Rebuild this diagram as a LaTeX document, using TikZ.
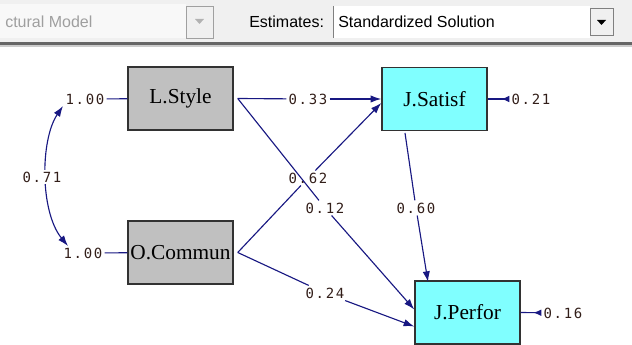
\documentclass[tikz,border=0pt]{standalone}
\usepackage{fontspec}
\setmainfont{Liberation Serif}
\newfontfamily\numfont[LetterSpace=12]{DejaVu Sans Mono}
\newfontfamily\uifont{Liberation Sans}
\usetikzlibrary{arrows.meta,calc}
\definecolor{navy}{RGB}{24,24,130}
\definecolor{numcol}{RGB}{50,30,25}
\definecolor{boxgray}{RGB}{192,192,192}
\definecolor{boxcyan}{RGB}{128,255,255}
\definecolor{barbg}{RGB}{240,240,240}
\tikzset{
  latent/.style={draw={rgb,255:red,50;green,50;blue,50}, line width=1.1pt, minimum width=78.75pt, minimum height=47.25pt, inner sep=0pt, font=\fontsize{16}{16}\selectfont},
  exo/.style={latent, fill=boxgray},
  endo/.style={latent, fill=boxcyan},
  coef/.style={inner sep=1.5pt, text=numcol, font=\numfont\fontsize{10.5}{10.5}\selectfont},
  path/.style={draw=navy, line width=0.85pt},
  arr/.style={path, -{Latex[length=8pt,width=5.5pt]}},
  errarr/.style={path, -{Latex[length=6pt,width=5pt,reversed]}},
  uitext/.style={inner sep=0pt, anchor=west, font=\uifont\fontsize{12}{12}\selectfont}
}
\begin{document}
\begin{tikzpicture}[x=0.75pt,y=-0.75pt]
\useasboundingbox (0,0) rectangle (632,345);
% ---- top bar ----
\fill[barbg] (0,0) rectangle (632,42);
\fill[white!50!barbg] (0,4) rectangle (186,38);
\node[draw={rgb,255:red,160;green,160;blue,160}, fill=barbg, minimum width=20.25pt, minimum height=24pt, inner sep=0pt] (btnA) at (199.5,22) {};
\fill[gray!60] (195,19) -- (204,19) -- (199.5,24) -- cycle;
\node[uitext, text=gray!75] (model) at (5,22) {ctural Model};
\node[uitext, text=black] (est) at (249,22) {Estimates:};
\fill[white] (333,6) rectangle (590,38);
\draw[gray, line width=1.2pt] (333.5,6) -- (333.5,38);
\node[uitext, text=black] (sol) at (338,22) {Standardized Solution};
\node[draw=gray, fill=barbg, minimum width=17pt, minimum height=20pt, inner sep=0pt] (btnB) at (601.5,22) {};
\fill[black] (597,20) -- (606,20) -- (601.5,25) -- cycle;
\fill[gray!80!black] (0,42) rectangle (632,45);
\fill[gray!40] (0,45) rectangle (632,47);
% ---- nodes ----
\node[exo]  (ls) at (180.5,98.5) {L.Style};
\node[exo]  (oc) at (180.5,252.5) {O.Commun};
\node[endo] (js) at (434.5,99) {J.Satisf};
\node[endo] (jp) at (467.5,312.5) {J.Perfor};
% ---- coefficient labels ----
\node[coef] (v1) at (85,99) {1.00};
\node[coef] (v2) at (83,253) {1.00};
\node[coef, fill=white] (c71) at (42,177) {0.71};
\node[coef] (c33) at (308,99) {0.33};
\node[coef] (c62) at (308,178) {0.62};
\node[coef] (c12) at (325,208) {0.12};
\node[coef] (c60) at (416,208) {0.60};
\node[coef] (c24) at (325,293) {0.24};
\node[coef] (e21) at (531,99) {0.21};
\node[coef] (e16) at (563,313) {0.16};
% ---- helper coordinates ----
\coordinate (lsE) at ($(ls.east)+(4,0)$);
\coordinate (ocE) at ($(oc.east)+(4,0)$);
\coordinate (jsB) at (405,133);
\coordinate (jpT) at (428,282);
\coordinate (jpA) at ($(jp.west)+(0,-3)$);
\coordinate (jpB) at ($(jp.west)+(0,14)$);
\coordinate (jsA) at ($(js.west)+(0,4)$);
\coordinate (cvTop) at (63,106);
\coordinate (cvBot) at (68,246);
% ---- variances ----
\draw[path] (v1) -- (ls);
\draw[path] (v2) -- (oc);
% ---- covariance ----
\draw[path, {Latex[length=8pt,width=5.5pt]}-{Latex[length=8pt,width=5.5pt]}] (cvTop) .. controls (40,140) and (40,212) .. (cvBot);
\node[coef, fill=white] at (c71) {0.71};
% ---- paths ----
\draw[path] (lsE) -- (c33);
\draw[arr] (c33) -- (js.west);
\draw[path] (lsE) -- (c12);
\draw[arr] (c12) -- (jpA);
\draw[path] (ocE) -- (c62);
\draw[arr] (c62) -- (jsA);
\draw[path] (ocE) -- (c24);
\draw[arr] (c24) -- (jpB);
\draw[path] (jsB) -- (c60);
\draw[arr] (c60) -- (jpT);
% ---- errors ----
\draw[errarr] (js.east) -- (e21);
\draw[errarr] (jp.east) -- (e16);
\end{tikzpicture}
\end{document}
